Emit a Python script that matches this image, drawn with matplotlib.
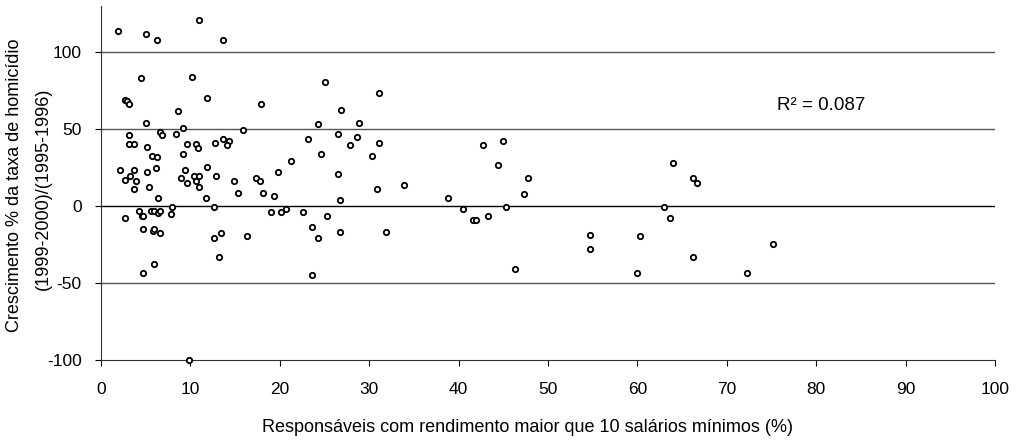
import matplotlib
matplotlib.use('Agg')
import matplotlib.pyplot as plt

plt.rcParams['font.family'] = ['Liberation Sans', 'DejaVu Sans']
plt.rcParams['axes.unicode_minus'] = False

# % of households earning > 10 minimum wages
renda = [1.9, 5.0, 6.3, 11.0, 13.7, 4.5, 10.2, 2.7, 2.9, 3.1, 11.9, 17.9, 8.6, 5.0,
         9.2, 15.9, 6.6, 6.8, 3.1, 8.4, 3.1, 3.7, 5.2, 5.7, 6.3, 9.2, 9.6, 10.6,
         10.85, 12.7, 13.65, 14.3, 14.1, 2.1, 2.7, 3.3, 3.7, 3.95, 3.7, 5.15, 5.37,
         6.2, 6.4, 9.0, 9.4, 9.6, 10.4, 10.6, 11.0, 11.0, 11.7, 11.9, 12.9, 14.9,
         15.3, 17.3, 17.75, 18.15, 19.4, 2.7, 4.3, 4.55, 4.7, 5.6, 5.95, 6.4, 6.55,
         7.8, 8.0, 12.65, 19.0, 4.7, 5.8, 5.95, 6.55, 12.65, 13.45, 16.3, 13.2,
         5.95, 4.7, 9.85, 25.1, 31.1, 26.85, 24.25, 28.9, 26.5, 23.2, 28.65, 27.85,
         31.15, 24.65, 30.3, 21.2, 19.75, 26.5, 33.95, 30.9, 26.7, 38.85, 42.7,
         44.4, 20.15, 20.75, 22.6, 25.25, 23.65, 24.25, 26.7, 31.9, 23.65, 40.45,
         41.65, 41.95, 43.3, 44.95, 47.8, 47.35, 45.35, 46.35, 54.65, 54.65, 60.35,
         59.95, 64.0, 66.25, 66.65, 63.0, 63.6, 66.25, 72.3, 75.15]

# growth of homicide rate (%)
crescimento = [114, 111.5, 108, 121, 108, 83, 84, 69, 68, 66, 70, 66, 61.5, 54,
               50.5, 49.5, 48, 46, 46, 47, 40, 40, 38.5, 32.7, 31.6, 34, 40, 40,
               37.7, 41, 43.7, 42.4, 39.8, 23.2, 17, 19.7, 23.2, 16, 11.2, 22, 12.4,
               24.4, 5.3, 18.4, 23.2, 15, 19.7, 16, 19.7, 12.5, 5.4, 25.4, 19.7, 16,
               8.6, 18.4, 16, 8.6, 6.5, -8, -3.2, -6.3, -6.9, -3.2, -3.2, -4.8, -3.2,
               -5.6, -0.9, -0.9, -4.3, -15.2, -16.2, -15.2, -17.5, -21, -17.5, -19.9, -33,
               -37.7, -43.7, -100, 80.3, 73.2, 62.3, 53, 54.1, 47, 43.3, 44.6, 39.8,
               40.9, 33.8, 32.7, 29.2, 21.9, 20.6, 13.4, 11, 3.9, 5.2, 39.8,
               26.6, -4.3, -1.9, -4.3, -6.7, -13.8, -21, -17.3, -17.3, -45, -1.9,
               -9.1, -9.1, -6.7, 42.2, 18.2, 7.6, -0.9, -41.3, -18.8, -28.4, -19.9,
               -44, 27.7, 18.4, 14.7, -0.9, -8, -33.1, -44, -24.9]

xticks = [0, 10, 20, 30, 40, 50, 60, 70, 80, 90, 100]
yticks = [-100, -50, 0, 50, 100]
r2_text = 'R\u00b2 = 0.087'

W, H = 1021, 445
fig = plt.figure(figsize=(W / 100, H / 100), dpi=100)
ax = fig.add_axes([0.0989, 0.192, 0.8756, 0.7945])

for y in yticks[1:]:
    ax.axhline(y, color='black' if y == 0 else '#555555', lw=1.0, zorder=1)

ax.scatter(renda, crescimento, s=15, facecolors='white', edgecolors='black',
           linewidths=1.3, zorder=3, clip_on=False)

ax.set_xlim(0, 100)
ax.set_ylim(-100, 130)
ax.set_xticks(xticks)
ax.set_yticks(yticks)
ax.tick_params(direction='out', length=4, width=0.8, labelsize=12.5, colors='black')
ax.tick_params(axis='y', pad=10)
ax.tick_params(axis='x', pad=12)
ax.spines['top'].set_visible(False)
ax.spines['right'].set_visible(False)
ax.spines['left'].set_color('#333333')
ax.spines['bottom'].set_color('#333333')

ax.text(75.6, 65.4, r2_text, fontsize=13.5, va='center', ha='left')

fig.text(527 / W, 1 - 428 / H,
         'Responsáveis com rendimento maior que 10 salários mínimos (%)',
         fontsize=13, ha='center', va='center')
fig.text(15 / W, 1 - 185 / H, 'Crescimento % da taxa de homicídio',
         fontsize=13, ha='center', va='center', rotation=90)
fig.text(43 / W, 1 - 189 / H, '(1999-2000)/(1995-1996)',
         fontsize=13, ha='center', va='center', rotation=90)

fig.savefig('out.png', dpi=100)
